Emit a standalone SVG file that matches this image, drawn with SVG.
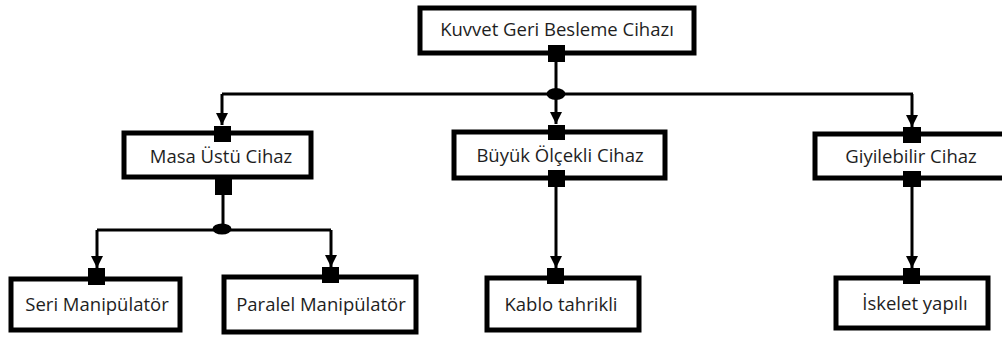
<svg xmlns="http://www.w3.org/2000/svg" width="1002" height="338" viewBox="0 0 1002 338">
  <style>
    .box { fill: #ffffff; stroke: #000000; stroke-width: 5; }
    .port { fill: #000000; }
    .wire { fill: none; stroke: #000000; stroke-width: 3; }
    .label { font-family: "Open Sans", "Noto Sans", sans-serif; font-size: 18.5px; fill: #1e1e1e; text-anchor: middle; }
  </style>
  <defs>
    <marker id="arrow" viewBox="0 0 10 10" refX="10" refY="5" markerWidth="4" markerHeight="4" orient="auto" markerUnits="strokeWidth">
      <path d="M0,0 L10,5 L0,10 Z" fill="#000000"/>
    </marker>
  </defs>

  <rect width="1002" height="338" fill="#ffffff"/>

  <!-- connectors -->
  <g id="connectors">
    <line class="wire" x1="556" y1="60" x2="556" y2="94"/>
    <polyline class="wire" points="222,94 913,94"/>
    <line class="wire" x1="222" y1="94" x2="222" y2="125" marker-end="url(#arrow)"/>
    <line class="wire" x1="556" y1="94" x2="556" y2="124" marker-end="url(#arrow)"/>
    <line class="wire" x1="912" y1="94" x2="912" y2="127" marker-end="url(#arrow)"/>
    <ellipse cx="556" cy="94" rx="9.5" ry="6" fill="#000000"/>

    <line class="wire" x1="223" y1="194" x2="223" y2="229"/>
    <polyline class="wire" points="97,230 331,230"/>
    <line class="wire" x1="97" y1="230" x2="97" y2="268" marker-end="url(#arrow)"/>
    <line class="wire" x1="331" y1="230" x2="331" y2="267" marker-end="url(#arrow)"/>
    <ellipse cx="222" cy="229" rx="9.5" ry="5.5" fill="#000000"/>

    <line class="wire" x1="556" y1="186" x2="556" y2="268" marker-end="url(#arrow)"/>
    <line class="wire" x1="912" y1="187" x2="912" y2="268" marker-end="url(#arrow)"/>
  </g>

  <!-- root -->
  <g id="node-root">
    <rect class="box" x="420" y="8" width="274" height="45"/>
    <text class="label" x="557" y="36">Kuvvet Geri Besleme Cihazı</text>
    <rect class="port" x="548" y="45" width="17" height="17"/>
  </g>

  <!-- second level -->
  <g id="node-masa">
    <rect class="box" x="124" y="133" width="187" height="44"/>
    <text class="label" x="221" y="163">Masa Üstü Cihaz</text>
    <rect class="port" x="214" y="126" width="17" height="16"/>
    <rect class="port" x="215" y="178" width="17" height="17"/>
  </g>

  <g id="node-buyuk">
    <rect class="box" x="454" y="132" width="211" height="46"/>
    <text class="label" x="560" y="162">Büyük Ölçekli Cihaz</text>
    <rect class="port" x="548" y="125" width="17" height="15"/>
    <rect class="port" x="548" y="170" width="17" height="17"/>
  </g>

  <g id="node-giyilebilir">
    <rect class="box" x="815" y="134" width="200" height="44"/>
    <text class="label" x="911" y="163">Giyilebilir Cihaz</text>
    <rect class="port" x="903" y="127" width="18" height="16"/>
    <rect class="port" x="903" y="171" width="18" height="16"/>
  </g>

  <!-- third level -->
  <g id="node-seri">
    <rect class="box" x="11" y="279" width="169" height="51"/>
    <text class="label" x="97" y="311">Seri Manipülatör</text>
    <rect class="port" x="88" y="268" width="17" height="17"/>
  </g>

  <g id="node-paralel">
    <rect class="box" x="224" y="277" width="192" height="55"/>
    <text class="label" x="321" y="311">Paralel Manipülatör</text>
    <rect class="port" x="322" y="267" width="17" height="16"/>
  </g>

  <g id="node-kablo">
    <rect class="box" x="487" y="278" width="152" height="52"/>
    <text class="label" x="561" y="311">Kablo tahrikli</text>
    <rect class="port" x="547" y="268" width="17" height="16"/>
  </g>

  <g id="node-iskelet">
    <rect class="box" x="836" y="278" width="152" height="50"/>
    <text class="label" x="915" y="310">İskelet yapılı</text>
    <rect class="port" x="903" y="268" width="17" height="16"/>
  </g>
</svg>
